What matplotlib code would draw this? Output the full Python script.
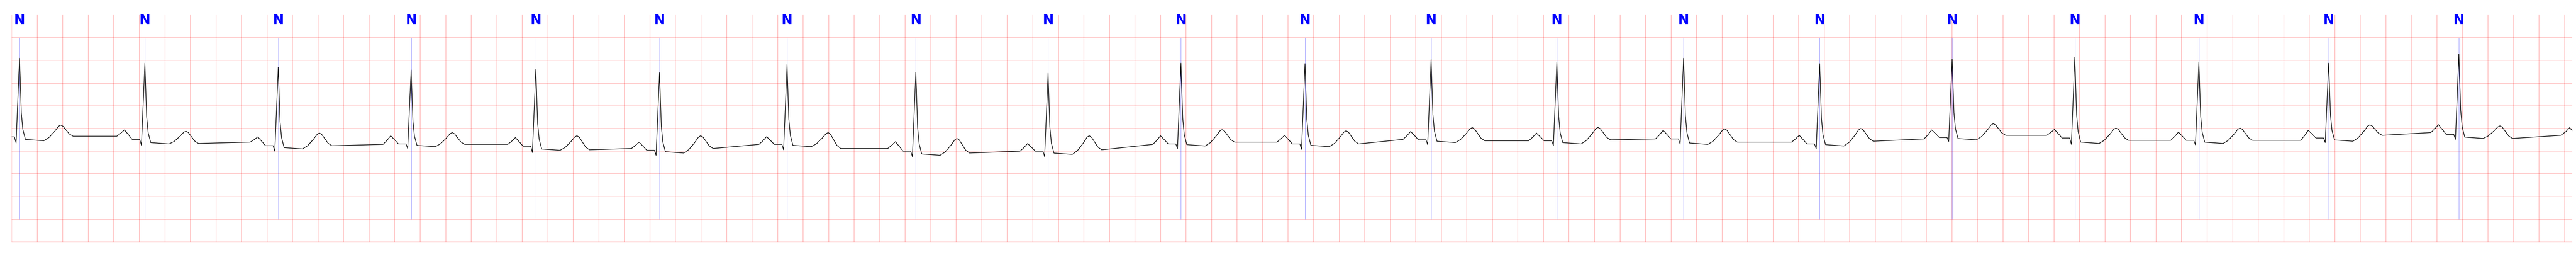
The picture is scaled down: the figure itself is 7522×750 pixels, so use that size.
import numpy as np
import matplotlib
matplotlib.use("Agg")
import matplotlib.pyplot as plt

# beat annotations: R peak time (s) and label
r_time = [0.061, 1.043, 2.088, 3.129, 4.106, 5.075, 6.074, 7.083, 8.119, 9.160,
          10.132, 11.120, 12.105, 13.098, 14.164, 15.202, 16.163, 17.135, 18.152, 19.172]
symbols = ["N"] * len(r_time)

# levels (mV)
pre_p = [-0.185, -0.17, -0.30, -0.35, -0.35, -0.44, -0.35, -0.44, -0.50, -0.35,
         -0.30, -0.24, -0.27, -0.23, -0.30, -0.23, -0.15, -0.26, -0.26, -0.09]
p_peak = [-0.185, -0.03, -0.185, -0.16, -0.20, -0.30, -0.18, -0.29, -0.33, -0.16,
          -0.15, -0.065, -0.10, -0.04, -0.15, -0.03, -0.02, -0.08, -0.04, 0.085]
pr_lvl = [-0.185, -0.24, -0.38, -0.34, -0.39, -0.48, -0.35, -0.50, -0.50, -0.34,
          -0.34, -0.25, -0.27, -0.23, -0.34, -0.20, -0.21, -0.26, -0.21, -0.13]
q_lvl = [-0.32, -0.37, -0.50, -0.44, -0.53, -0.59, -0.47, -0.62, -0.62, -0.44,
         -0.46, -0.355, -0.38, -0.345, -0.45, -0.285, -0.35, -0.36, -0.31, -0.24]
r_peak = [1.55, 1.44, 1.35, 1.29, 1.30, 1.23, 1.41, 1.24, 1.22, 1.44,
          1.43, 1.53, 1.47, 1.55, 1.43, 1.53, 1.57, 1.47, 1.44, 1.64]
st_lvl = [-0.27, -0.34, -0.45, -0.40, -0.48, -0.54, -0.40, -0.59, -0.57, -0.385,
          -0.40, -0.31, -0.34, -0.35, -0.385, -0.25, -0.33, -0.33, -0.28, -0.22]
t_peak = [0.075, -0.06, -0.10, -0.09, -0.16, -0.16, -0.09, -0.22, -0.16, -0.025,
          -0.05, 0.02, 0.025, -0.01, 0.0, 0.106, 0.01, 0.01, 0.08, 0.057]
post_t = [-0.17, -0.33, -0.38, -0.35, -0.47, -0.44, -0.44, -0.54, -0.47, -0.30,
          -0.34, -0.27, -0.25, -0.30, -0.28, -0.15, -0.26, -0.26, -0.15, -0.22]

# P wave of the next (cut off) beat at the right edge
tail_t = [19.97, 20.01, 20.04, 20.06]
tail_v = [-0.15, -0.07, 0.02, -0.05]

# beat shape read from the strip: (offset from R in s, fraction between levels)
p_shape = [(-0.22, 0.0), (-0.19, 0.45), (-0.16, 1.0), (-0.145, 0.75), (-0.12, 0.35), (-0.10, 0.0)]
t_shape_up = [(0.19, 0.0), (0.23, 0.2), (0.275, 0.6), (0.305, 0.92), (0.322, 1.0)]
t_shape_down = [(0.34, 0.9), (0.365, 0.55), (0.39, 0.2), (0.42, 0.0)]

x_end = 20.06


def beat_points(i):
    r = r_time[i]
    ts, vs = [], []
    for dt, f in p_shape:
        base = pre_p[i] if dt < -0.16 else pr_lvl[i]
        ts.append(r + dt)
        vs.append(base + f * (p_peak[i] - base))
    # PR segment, QRS
    ts += [r - 0.04, r - 0.027, r, r + 0.014, r + 0.026, r + 0.046]
    span = r_peak[i] - st_lvl[i]
    vs += [pr_lvl[i], q_lvl[i], r_peak[i], st_lvl[i] + 0.335 * span,
           st_lvl[i] + 0.137 * span, st_lvl[i] + 0.016 * span]
    for dt, f in t_shape_up:
        ts.append(r + dt)
        vs.append(st_lvl[i] + f * (t_peak[i] - st_lvl[i]))
    for dt, f in t_shape_down:
        ts.append(r + dt)
        vs.append(post_t[i] + f * (t_peak[i] - post_t[i]))
    return ts, vs


sig_t, sig_v = [], []
for i in range(len(r_time)):
    ts, vs = beat_points(i)
    sig_t += ts
    sig_v += vs
sig_t += tail_t
sig_v += tail_v

fig = plt.figure(figsize=(75.22, 7.5), dpi=100)
ax = fig.add_axes([34.3 / 7522, 44 / 750, (7511 - 34.3) / 7522, 662 / 750])

ax.set_xlim(0, x_end)
ax.set_ylim(-2.5, 2.5)
ax.set_xticks(np.arange(0, x_end, 0.2))
ax.set_yticks(np.arange(-2.5, 2.5, 0.5))
ax.grid(True, color="red", alpha=0.25, linewidth=1.5)
ax.tick_params(length=0, labelbottom=False, labelleft=False)
for s in ax.spines.values():
    s.set_visible(False)

ax.vlines(r_time, -2, 2, color="blue", alpha=0.5, linewidth=0.75, zorder=2)
ax.plot(sig_t, sig_v, color="black", linewidth=1.3, zorder=3)

for t, s in zip(r_time, symbols):
    ax.text(t, 2.3, s, color="blue", ha="center", va="baseline", fontsize=28,
            fontweight="bold", family=["Liberation Sans Narrow", "DejaVu Sans"])

fig.savefig("out.png", dpi=100, facecolor="white")
